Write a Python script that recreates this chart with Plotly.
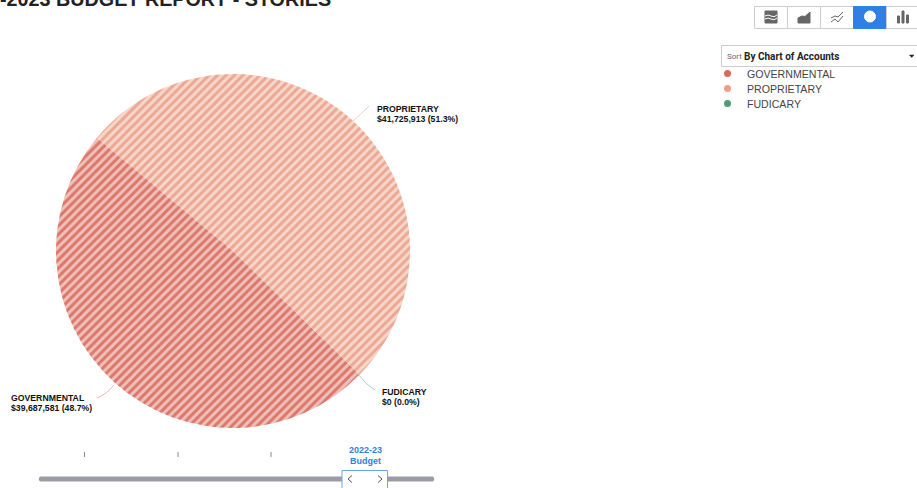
import plotly.graph_objects as go

categories = ["GOVERNMENTAL", "PROPRIETARY", "FUDICARY"]
values = [39687581, 41725913, 0]
colors = ["#d9695a", "#ea9f86", "#4f9a78"]
leader_colors = ["#f0b5ac", "#f3cdbf", "#a8d5c5"]
pct_labels = ["$39,687,581 (48.7%)", "$41,725,913 (51.3%)", "$0 (0.0%)"]
title_text = "-2023 BUDGET REPORT - STORIES"
sort_prefix = "Sort"
sort_value = "By Chart of Accounts"
period_label = ["2022-23", "Budget"]

W, H = 917, 488
ARIAL = "Liberation Sans, Arial, sans-serif"
BLUE = "#2f80e4"

fig = go.Figure()
fig.add_trace(go.Pie(
    labels=categories, values=values, sort=False, direction="clockwise",
    rotation=134.3, textinfo="none", hoverinfo="label+value+percent",
    showlegend=False, opacity=0.9,
    domain=dict(x=[56 / W, 410 / W], y=[1 - 428 / H, 1 - 74 / H]),
    marker=dict(colors=colors, line=dict(width=0),
                pattern=dict(shape="/", fgcolor="white", fgopacity=0.55,
                             size=6, solidity=0.48, fillmode="overlay")),
))

shapes, ann = [], []


def text(x, y, s, size=10, color="#111", anchor="left", bold=False, family=ARIAL):
    ann.append(dict(x=x, y=y, xref="x", yref="y", text=f"<b>{s}</b>" if bold else s,
                    showarrow=False, xanchor=anchor, yanchor="middle",
                    font=dict(size=size, color=color, family=family)))


def rect(x0, y0, x1, y1, fill="white", line="#cfcfcf", lw=1):
    shapes.append(dict(type="rect", xref="x", yref="y", x0=x0, y0=y0, x1=x1, y1=y1,
                       fillcolor=fill, line=dict(color=line, width=lw)))


def path(d, color, lw=1, fill=None):
    s = dict(type="path", xref="x", yref="y", path=d, line=dict(color=color, width=lw))
    if fill:
        s["fillcolor"] = fill
    shapes.append(s)


# title (cut by the top of the page, as in the reference)
ann.append(dict(x=0, y=0, xref="x", yref="y", text=f"<b>{title_text}</b>", showarrow=False,
                xanchor="left", yanchor="middle", xshift=-2, yshift=1.5,
                font=dict(size=19.75, color="#222", family=ARIAL)))

# leader lines and callouts
path("M 97 398 Q 107 394 114 385", leader_colors[0])
path("M 352 122 Q 361 114 369 106", leader_colors[1])
path("M 358 374 Q 366 385 375 390", leader_colors[2])
text(9, 397.5, categories[0], size=8.7, bold=True)
text(9, 407.5, pct_labels[0], size=8.7, bold=True)
text(374.5, 108.5, categories[1], size=8.7, bold=True)
text(374.5, 118.5, pct_labels[1], size=8.7, bold=True)
text(379.5, 392, categories[2], size=8.7, bold=True)
text(379.5, 402, pct_labels[2], size=8.7, bold=True)

# view-switch buttons
edges = [754, 787, 820, 853, 886, 919]
for i in range(5):
    rect(edges[i] + .5, 6.5, edges[i + 1] + .5, 28.5,
         fill=BLUE if i == 3 else "white", line=BLUE if i == 3 else "#cccccc")
G = "#666666"
# icon 1: stacked
rect(765, 11, 777, 23, fill=G, line=G)
path("M 765 16 Q 768 14 771 16 T 777 15", "white", 1)
path("M 765 19 Q 768 17 771 19 T 777 18", "white", 1)
# icon 2: area
path("M 798 23 L 798 18 L 802 16 L 805 16.5 L 810 12 L 810 23 Z", G, 1, G)
# icon 3: lines
path("M 831 18 L 835 16 L 838 17 L 843 12", G, 1)
path("M 831 22 L 835 19 L 838 22 L 843 16", G, 1)
# icon 4: pie
shapes.append(dict(type="circle", xref="x", yref="y", x0=864.5, y0=11, x1=875.5, y1=22,
                   fillcolor="white", line=dict(color="white", width=1)))
# icon 5: bars
rect(897.5, 16, 899.5, 23, fill=G, line=G)
rect(902, 11, 904, 23, fill=G, line=G)
rect(906.5, 15, 908.5, 23, fill=G, line=G)

# sort dropdown
rect(721.5, 45.5, 918, 66.5, line="#cccccc")
text(725, 56, sort_prefix, size=8, color="#666666", family="Roboto, sans-serif")
text(742, 56, sort_value, size=10, color="#222", family="Roboto, sans-serif", bold=True)
path("M 909.5 55 L 914 55 L 911.75 57.5 Z", "#222", 0.5, "#222")

# legend
for y, name, c in zip([73.5, 88.5, 103.5], categories, colors):
    shapes.append(dict(type="circle", xref="x", yref="y", x0=724, y0=y - 3.5, x1=731, y1=y + 3.5,
                       fillcolor=c, line=dict(width=0)))
    text(744.5, y, name, size=10.6, color="#444")

# time slider
for x in [84.5, 178, 271]:
    path(f"M {x} 452 L {x} 457", "#888888", 1)
path("M 40 476.5 L 433 476.5 Q 435.5 479 433 481.5 L 40 481.5 Q 37.5 479 40 476.5 Z",
     "#999da3", 0, "#999da3")
text(365, 450, period_label[0], size=9, color=BLUE, anchor="center", bold=True)
text(365, 461, period_label[1], size=9, color=BLUE, anchor="center", bold=True)
rect(342, 470.5, 387.5, 490, line="#6aa5ea")
path("M 352 475.5 L 348 479 L 352 482.5", "#555555", 1)
path("M 378 475.5 L 382 479 L 378 482.5", "#555555", 1)

fig.update_layout(
    width=W, height=H, margin=dict(l=0, r=0, t=0, b=0),
    paper_bgcolor="white", plot_bgcolor="rgba(0,0,0,0)", showlegend=False,
    xaxis=dict(range=[0, W], visible=False, fixedrange=True),
    yaxis=dict(range=[H, 0], visible=False, fixedrange=True),
    shapes=shapes, annotations=ann,
)
fig.write_html("out.html", config=dict(displayModeBar=False),
               post_script="document.body.style.margin='0';document.body.style.overflow='hidden';")
